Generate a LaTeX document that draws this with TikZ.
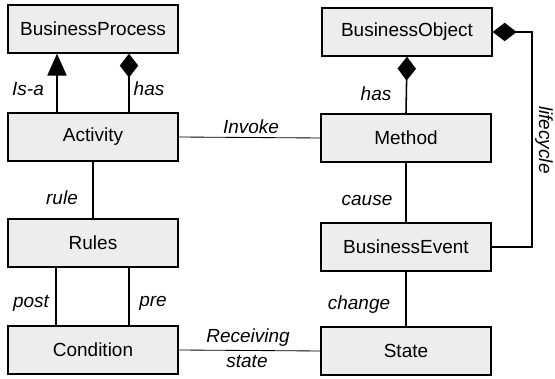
\documentclass[tikz,border=0pt]{standalone}
\usepackage{fontspec}
\setmainfont{Liberation Sans}
\usepackage{tikz}
\usetikzlibrary{arrows.meta}

\begin{document}
\begin{tikzpicture}[x=0.025cm, y=-0.025cm,
  box/.style={draw=black, line width=0.9pt, fill=black!7, minimum width=4.25cm,
    minimum height=1.2cm, inner sep=0pt, font=\fontsize{13.5}{15}\selectfont},
  lab/.style={font=\fontsize{13.5}{15}\selectfont\itshape},
  link/.style={line width=0.8pt},
  isa/.style={line width=1.1pt, -{Triangle[length=0.55cm, width=0.48cm]}},
  part/.style={line width=1.1pt, -{Diamond[length=0.6cm, width=0.46cm]}}]

\useasboundingbox (0,0) rectangle (555,379);

% left column
\node[box] (bp) at (93, 29) {BusinessProcess};
\node[box] (act) at (93, 137) {Activity};
\node[box] (rul) at (93, 243) {Rules};
\node[box] (cond) at (93, 350) {Condition};

% right column
\node[box] (bo) at (407, 32) {BusinessObject};
\node[box] (meth) at (406, 138) {Method};
\node[box] (ev) at (406, 247) {BusinessEvent};
\node[box] (st) at (406, 351) {State};

\coordinate (lc) at (532, 0);

\draw[isa] (act.north -| 57,0) -- (bp.south -| 57,0);
\draw[part] (act.north -| 129,0) -- (bp.south -| 129,0);
\draw[link, line width=0.6pt] (act.east) -- (meth.west);
\draw[link] (act.south) -- (rul.north);
\draw[link, line width=1pt] (rul.south -| 56,0) -- (cond.north -| 56,0);
\draw[link, line width=1pt] (rul.south -| 129,0) -- (cond.north -| 129,0);
\draw[link, line width=0.6pt] (cond.east) -- (st.west);

\draw[part] (meth.north) -- (bo.south);
\draw[link] (meth.south) -- (ev.north);
\draw[link] (ev.south) -- (st.north);
\draw[part] (ev.east) -| (lc |- ev.east) |- (bo.east);

% labels
\node[lab] (l1) at (28, 89) {Is-a};
\node[lab] (l2) at (149, 89) {has};
\node[lab] (l3) at (251, 127) {Invoke};
\node[lab] (l4) at (62, 198) {rule};
\node[lab] (l5) at (31, 303) {post};
\node[lab] (l6) at (153, 303) {pre};
\node[lab] (l7) at (248, 338) {Receiving};
\node[lab] (l8) at (247, 361) {state};
\node[lab] (l9) at (376, 94) {has};
\node[lab] (l10) at (367, 200) {cause};
\node[lab] (l11) at (359, 305) {change};
\node[lab, rotate=-90] (l12) at (544, 140) {lifecycle};

\end{tikzpicture}
\end{document}
